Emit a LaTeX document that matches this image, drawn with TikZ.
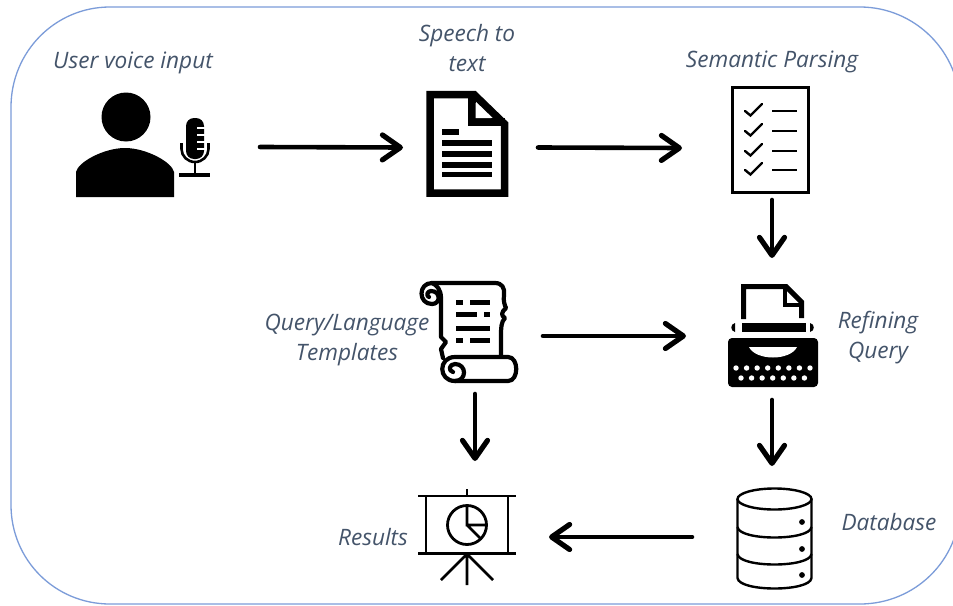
\documentclass[tikz,border=0pt]{standalone}
\usepackage{fontspec}
\setmainfont{Open Sans}
\usetikzlibrary{arrows.meta}
\definecolor{lab}{HTML}{44546A}
\definecolor{frame}{HTML}{7C9CD9}
\tikzset{
  lbl/.style={text=lab,font=\fontsize{22.6}{30}\selectfont\itshape,align=center,inner sep=0pt},
  conn/.style={line width=4.6pt,line cap=round,-{Straight Barb[length=18pt,width=25pt,line width=5.2pt,round]}},
  iconbox/.style n args={2}{inner sep=0pt,outer sep=0pt,minimum width=#1,minimum height=#2},
  pen/.style={line width=2.8pt},
  dbpen/.style={line width=2.4pt},
  scrollpen/.style={line width=4.2pt,line join=round,line cap=round}
}
\begin{document}
\begin{tikzpicture}[x=1pt,y=-1pt]
\useasboundingbox (0,0) rectangle (953,605);
\fill[white] (0,0) rectangle (953,605);
\begin{scope}
\clip (0,0) rectangle (953,605);
\draw[frame,line width=1.3pt] (110,7) -- (860,7) .. controls (915,7) and (960,52) .. (960,107) -- (960,505) .. controls (960,560) and (915,604) .. (860,604) -- (110,604) .. controls (55,604) and (11,560) .. (11,505) -- (11,107) .. controls (11,52) and (55,7) .. (110,7) -- cycle;
\end{scope}
% labels
\node[lbl] (l1) at (133,63) {User voice input};
\node[lbl] (l2) at (467,48) {Speech to\\text};
\node[lbl] (l3) at (772,62) {Semantic Parsing};
\node[lbl] (l4) at (347,340) {Query/Language\\Templates};
\node[lbl] (l5) at (878,338) {Refining\\Query};
\node[lbl] (l6) at (373,537) {Results};
\node[lbl] (l7) at (889,522) {Database};
% named icon areas (connector ends)
\node[iconbox={230pt}{100pt}] (user) at (145,147) {};
\node[iconbox={135pt}{100pt}] (doc) at (470.5,147.5) {};
\node[iconbox={180pt}{104pt}] (check) at (772,148) {};
\node[iconbox={136pt}{116pt}] (scroll) at (475,336) {};
\node[iconbox={172pt}{142pt}] (type) at (772,329) {};
\node[iconbox={148pt}{152pt}] (res) at (475,537) {};
\node[iconbox={162pt}{142pt}] (db) at (773,537) {};
% user + mic
\fill (126,117) circle (24.5);
\fill (76,197) -- (76,172) .. controls (78,162) and (104,148) .. (125,148) .. controls (146,148) and (172,162) .. (174,172) -- (174,197) -- cycle;
\fill[rounded corners=8pt] (186,118) rectangle (204,159);
\foreach \yy in {128,135,142,149} \fill[white] (197,\yy-1) rectangle (205,\yy+1);
\draw[line width=2.6pt] (181.5,143) -- (181.5,149) arc[start angle=180,end angle=0,x radius=13.5,y radius=13] -- (208.5,143);
\draw[line width=2.8pt] (195,163) -- (195,175);
\draw[line width=4pt] (179,175) -- (210,175);
% document
\draw[line width=7.5pt,miter limit=10] (430,94.5) -- (474,94.5) -- (504.5,124) -- (504.5,193) -- (430,193) -- cycle;
\draw[line width=7.5pt] (472,94) -- (472,122) -- (505,122);
\fill[white] (475.5,103) -- (491,118) -- (475.5,118) -- cycle;
\fill (442,129) rectangle (459,134.5);
\foreach \yy in {143,154,165,174.5} \fill (442,\yy-2.7) rectangle (492,\yy+2.7);
% checklist
\draw[line width=3pt] (732,87.5) rectangle (808,192);
\foreach \yy in {111,131,151,170}{
  \draw[line width=2.4pt,line cap=round] (745,\yy) -- (750.5,\yy+4.5) -- (762,\yy-7);
  \draw[line width=2pt] (772,\yy) -- (797,\yy);
}
% scroll
\draw[scrollpen] (432,283) -- (495,283) .. controls (502,283) and (505,288) .. (504,295) .. controls (503,301) and (505,306) .. (506,308) .. controls (501,312) and (501,316) .. (505,318) .. controls (501,322) and (501,328) .. (501,336) -- (501,356);
\draw[scrollpen] (432,283) .. controls (418,283) and (418,304) .. (432,304) .. controls (441,304) and (441,291) .. (431,291) .. controls (427,291) and (426,296) .. (429,297);
\draw[scrollpen] (432,283) .. controls (437,285) and (441,290) .. (441,298) -- (441,337) -- (446,342) -- (441,349) -- (443,358);
\draw[scrollpen] (508,357) -- (455,357) .. controls (438,357) and (438,381) .. (455,381) -- (508,381) .. controls (519,381) and (519,357) .. (508,357);
\draw[scrollpen] (455,381) .. controls (467,381) and (467,364) .. (455,364) .. controls (449,364) and (448,371) .. (453,372);
\foreach \a/\b/\yy in {456/463/302,470/490/302,456/477/314,484/490/314,456/490/328,456/463/340,470/490/340}
  \fill (\a,\yy-2.5) rectangle (\b,\yy+2.5);
% typewriter
\draw[line width=5pt] (743.5,319) -- (743.5,286.5) -- (786,286.5) -- (801.5,302) -- (801.5,318);
\draw[line width=4pt] (785,288) -- (785,304.5) -- (801,304.5);
\fill (742,323) rectangle (806,332);
\fill (735,323) .. controls (730,324) and (730,331) .. (735,332) -- cycle;
\fill (810,323) .. controls (815,324) and (815,331) .. (810,332) -- cycle;
\fill[rounded corners=4pt] (728,338) rectangle (818,387);
\fill[white] (749,347) -- (797,347) .. controls (790,361) and (756,361) .. (749,347) -- cycle;
\foreach \i in {0,...,7} \fill[white] (736+\i*10.57,368) circle (2.7);
\foreach \i in {0,...,6} \fill[white] (741+\i*10.57,378) circle (2.7);
% database
\draw[dbpen] (774.5,499) ellipse (37 and 10.5);
\draw[dbpen] (737.5,499) -- (737.5,578) .. controls (739,592) and (810,592) .. (811.5,578) -- (811.5,499);
\draw[dbpen] (737.5,527) .. controls (739,541) and (810,541) .. (811.5,527);
\draw[dbpen] (737.5,554) .. controls (739,568) and (810,568) .. (811.5,554);
\foreach \yy in {522,549,575} \fill (802,\yy) circle (2.9);
% results
\draw[pen] (418,496) -- (516,496) (418,553.5) -- (516,553.5) (426,496) -- (426,553.5) (508,496) -- (508,553.5) (467,489) -- (467,496);
\draw[pen] (467,554) -- (467,585) (467,554) -- (441,580) (467,554) -- (493,580);
\draw[pen] (467,525) circle (19.5);
\draw[pen] (467,506) -- (467,525) -- (486.5,525) (467,525) -- (481,539);
% connectors
\draw[conn] (user.east) -- (doc.west);
\draw[conn] (doc.east) -- (check.west);
\draw[conn] (check.south) -- (type.north);
\draw[conn] (scroll.east) -- (type.west |- scroll.east);
\draw[conn] (type.south) -- (db.north -| type.south);
\draw[conn] (db.west) -- (res.east);
\draw[conn] (scroll.south) -- (res.north);
\end{tikzpicture}
\end{document}
